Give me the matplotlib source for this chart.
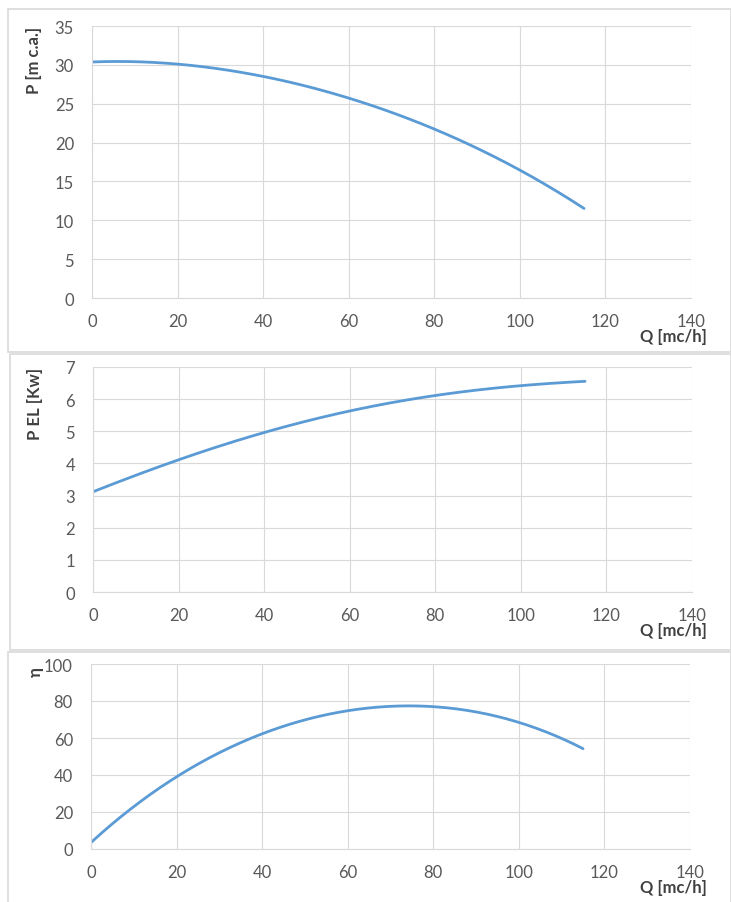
import numpy as np
import matplotlib.pyplot as plt
from matplotlib.patches import Rectangle

# pump curves
q = [0, 5, 10, 20, 30, 40, 50, 60, 70, 80, 90, 100, 110, 115]
head = [30.34, 30.47, 30.43, 30.08, 29.44, 28.5, 27.26, 25.77, 23.9, 21.7, 19.27, 16.45, 13.3, 11.5]
q_pel = [0, 10, 20, 30, 40, 50, 60, 70, 80, 90, 100, 110, 115]
pel = [3.12, 3.62, 4.13, 4.56, 4.95, 5.31, 5.64, 5.9, 6.12, 6.28, 6.42, 6.51, 6.56]
q_eta = [0, 5, 10, 20, 30, 40, 50, 60, 70, 80, 90, 100, 110, 115]
eta = [3.5, 13.4, 23.4, 38.8, 51.9, 62.4, 69.7, 74.8, 77.3, 77.0, 73.7, 68.4, 60.3, 53.9]

x_ticks = [0, 20, 40, 60, 80, 100, 120, 140]

plt.rcParams['font.family'] = ['Lato', 'DejaVu Sans']

W, H = 731, 903
fig = plt.figure(figsize=(W / 100, H / 100), dpi=100)

line_col = '#5B9BD5'
grid_col = '#D9D9D9'
txt_col = '#595959'
lab_col = '#404040'


def smooth(x, y):
    # cubic-ish fit over the read points so the line stays smooth
    xs = np.linspace(min(x), max(x), 200)
    c = np.polyfit(x, y, 4)
    return xs, np.polyval(c, xs)


def panel(box, rect_px, x, y, ymax, ystep, ylabel, ylab_pos):
    l, t, r, b = rect_px
    ax = fig.add_axes([l / W, 1 - b / H, (r - l) / W, (b - t) / H])
    xs, ys = smooth(x, y)
    ax.plot(xs, ys, color=line_col, lw=2.0, solid_capstyle='round')
    ax.set_xlim(0, 140)
    ax.set_ylim(0, ymax)
    ax.set_xticks(x_ticks)
    ax.set_yticks(np.arange(0, ymax + ystep / 2, ystep))
    ax.grid(True, color=grid_col, lw=0.8)
    ax.set_axisbelow(True)
    for s in ['top', 'right']:
        ax.spines[s].set_visible(False)
    for s in ['left', 'bottom']:
        ax.spines[s].set_color(grid_col)
        ax.spines[s].set_linewidth(0.8)
    ax.tick_params(length=0, colors=txt_col, labelsize=12)
    ax.tick_params(axis='x', pad=11)
    ax.tick_params(axis='y', pad=13)
    # chart frame
    bx0, by0, bx1, by1 = box
    fig.patches.append(Rectangle((bx0 / W, 1 - by1 / H), (bx1 - bx0) / W, (by1 - by0) / H,
                                 transform=fig.transFigure, fill=False,
                                 edgecolor=grid_col, lw=1.2))
    fig.text(ylab_pos[0] / W, 1 - ylab_pos[1] / H, ylabel, rotation=90,
             ha='center', va='top', fontsize=12, fontweight='bold', color=lab_col)
    fig.text(707 / W, 1 - (b + 38) / H, 'Q [mc/h]', ha='right', va='center',
             fontsize=12, fontweight='bold', color=lab_col)
    return ax


panel((8, 10, 731, 353), (92, 27, 691, 299), q, head, 35, 5, 'P [m c.a.]', (34, 27))
panel((10, 355, 731, 651), (93, 368, 692, 593), q_pel, pel, 7, 1, 'P EL [Kw]', (35, 368))
panel((8, 653, 731, 905), (91, 665, 690, 850), q_eta, eta, 100, 20, 'η', (36, 667))

fig.savefig('out.png', dpi=100)
